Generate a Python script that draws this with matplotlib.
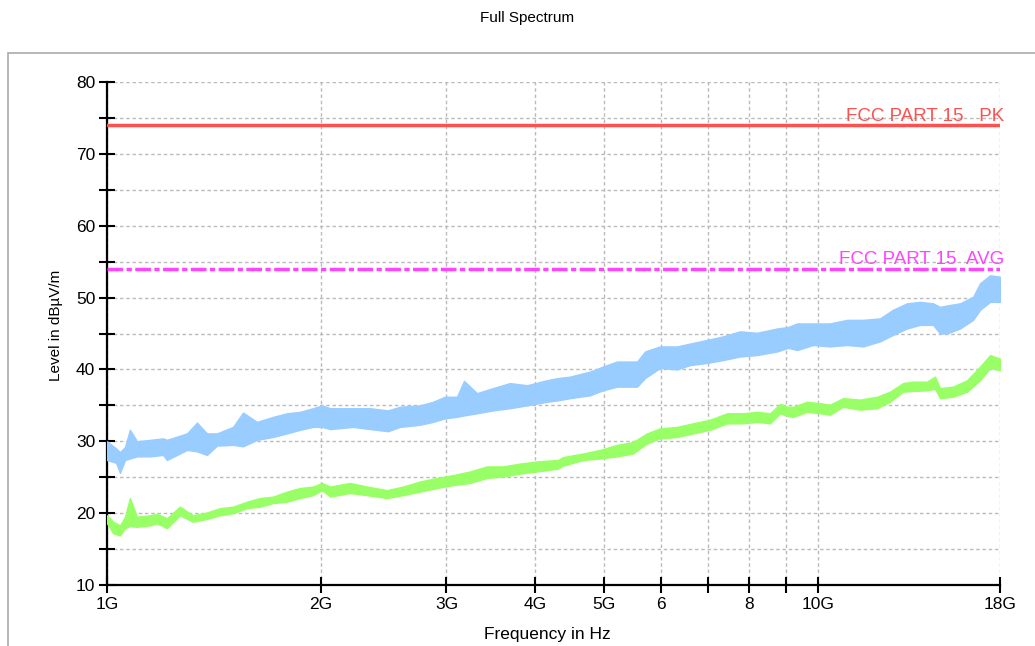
import numpy as np
import matplotlib.pyplot as plt
from matplotlib.patches import Rectangle
from matplotlib.ticker import FixedLocator, NullFormatter

plt.rcParams['font.family'] = ['Liberation Sans', 'DejaVu Sans']

# --- readings from the reference (frequency in GHz, level in dBuV/m) ---
pk_freq = [1.000, 1.030, 1.043, 1.060, 1.077, 1.102, 1.149, 1.199, 1.214, 1.296,
           1.338, 1.382, 1.428, 1.504, 1.553, 1.625, 1.712, 1.791, 1.868, 1.948,
           2.006, 2.059, 2.218, 2.343, 2.483, 2.581, 2.754, 2.873, 2.986, 3.104,
           3.176, 3.312, 3.488, 3.685, 3.894, 4.154, 4.305, 4.476, 4.775, 4.980,
           5.211, 5.560, 5.706, 5.990, 6.327, 6.600, 6.973, 7.344, 7.760, 8.200,
           8.749, 9.066, 9.335, 9.827, 10.382, 10.970, 11.555, 12.205, 12.729, 13.321,
           13.895, 14.492, 14.824, 15.164, 15.817, 16.498, 16.877, 17.431, 18.000]
pk_lo = [27.4, 27.0, 25.6, 27.4, 27.6, 27.9, 27.9, 28.1, 27.4, 28.8,
         28.6, 28.1, 29.4, 29.5, 29.3, 30.2, 30.6, 31.1, 31.6, 32.0,
         32.0, 31.7, 32.0, 31.7, 31.4, 32.0, 32.3, 32.7, 33.2, 33.4,
         33.6, 33.9, 34.3, 34.6, 35.0, 35.5, 35.7, 36.0, 36.4, 37.1,
         37.6, 37.6, 38.8, 40.2, 40.0, 40.6, 40.9, 41.3, 41.8, 42.0,
         42.5, 43.0, 42.7, 43.4, 43.2, 43.4, 43.2, 43.9, 44.8, 45.7,
         46.2, 46.2, 45.0, 45.0, 45.7, 46.9, 48.3, 49.4, 49.4]
pk_hi = [30.0, 29.0, 28.5, 29.2, 31.6, 30.0, 30.2, 30.4, 30.2, 31.1,
         32.6, 31.1, 31.1, 32.0, 34.0, 32.7, 33.4, 33.9, 34.1, 34.6,
         35.0, 34.6, 34.6, 34.6, 34.3, 34.8, 35.0, 35.5, 36.2, 36.2,
         38.4, 36.7, 37.4, 38.1, 37.8, 38.5, 38.8, 39.0, 39.7, 40.4,
         41.1, 41.1, 42.5, 43.2, 43.2, 43.6, 44.1, 44.6, 45.3, 45.1,
         45.7, 45.9, 46.4, 46.4, 46.4, 46.9, 46.9, 47.1, 48.3, 49.2,
         49.4, 49.2, 48.7, 48.9, 49.2, 50.1, 52.0, 53.1, 52.9]

av_freq = [1.000, 1.020, 1.043, 1.060, 1.077, 1.102, 1.149, 1.176, 1.214, 1.266,
           1.321, 1.382, 1.442, 1.504, 1.573, 1.641, 1.712, 1.791, 1.868, 1.948,
           2.006, 2.059, 2.196, 2.320, 2.475, 2.606, 2.754, 2.910, 3.065, 3.238,
           3.421, 3.603, 3.807, 4.022, 4.305, 4.375, 4.668, 4.932, 5.211, 5.488,
           5.743, 5.990, 6.327, 6.664, 7.041, 7.440, 7.836, 8.200, 8.553, 8.834,
           9.066, 9.214, 9.638, 10.052, 10.382, 10.829, 11.443, 12.087, 12.606, 13.150,
           13.584, 14.213, 14.586, 14.824, 15.462, 16.180, 16.877, 17.431, 18.000]
av_lo = [18.6, 17.2, 16.9, 17.9, 18.2, 18.1, 18.3, 18.6, 17.9, 19.7,
         18.8, 19.2, 19.7, 20.0, 20.7, 20.9, 21.4, 21.6, 22.1, 22.5,
         23.2, 22.3, 22.8, 22.5, 22.1, 22.5, 23.0, 23.5, 23.9, 24.2,
         24.9, 25.1, 25.5, 25.8, 26.2, 26.6, 27.4, 27.6, 27.9, 28.3,
         29.7, 30.4, 30.6, 31.1, 31.6, 32.5, 32.5, 32.7, 32.5, 33.9,
         33.5, 33.4, 34.1, 33.9, 33.7, 34.8, 34.4, 34.6, 35.5, 36.9,
         37.0, 37.1, 37.3, 36.0, 36.2, 36.9, 38.5, 40.2, 39.9]
av_hi = [19.7, 18.8, 18.3, 19.5, 22.1, 19.5, 19.7, 19.9, 19.3, 20.9,
         19.7, 20.1, 20.7, 20.9, 21.6, 22.1, 22.3, 23.0, 23.5, 23.7,
         24.2, 23.7, 24.2, 23.7, 23.2, 23.7, 24.4, 24.9, 25.3, 25.8,
         26.5, 26.5, 26.9, 27.2, 27.4, 27.8, 28.3, 28.8, 29.5, 29.9,
         31.1, 31.8, 32.0, 32.5, 33.0, 33.9, 33.9, 34.1, 33.9, 35.2,
         34.8, 34.8, 35.5, 35.3, 35.1, 36.0, 35.8, 36.2, 36.9, 38.1,
         38.3, 38.3, 39.0, 37.4, 37.6, 38.5, 40.4, 42.0, 41.5]

limit_pk = 74
limit_av = 54
xtick_pos = [1, 2, 3, 4, 5, 6, 7, 8, 9, 10, 18]
xtick_lbl = ['1G', '2G', '3G', '4G', '5G', '6', '', '8', '', '10G', '18G']

W, H = 1035, 646
fig = plt.figure(figsize=(W / 100, H / 100), dpi=100)
ax = fig.add_axes([107 / W, (H - 585) / H, 893 / W, 503 / H])

# outer gray frame (left and top visible)
fig.patches.append(Rectangle((8 / W, -0.2), 1.2, (H - 53) / H + 0.2, transform=fig.transFigure,
                             fill=False, edgecolor='#aaaaaa', lw=1.2, zorder=0))

f_pk = np.array(pk_freq) * 1e9
f_av = np.array(av_freq) * 1e9
ax.fill_between(f_pk, pk_lo, pk_hi, color='#99ccff', lw=1.0, edgecolor='#99ccff', zorder=3)
ax.fill_between(f_av, av_lo, av_hi, color='#99ff66', lw=1.0, edgecolor='#99ff66', zorder=3)

ax.axhline(limit_pk, color='#ff5050', lw=2.5, zorder=4)
ax.axhline(limit_av, color='#ff44ff', lw=2.5, ls=(0, (4.5, 1, 1.5, 1)), zorder=4)
ax.text(18.25e9, limit_pk + 0.05, 'FCC PART 15   PK', color='#ff5050', fontsize=13.5,
        ha='right', va='bottom', zorder=5)
ax.text(18.25e9, limit_av + 0.05, 'FCC PART 15  AVG', color='#ff44ff', fontsize=13.5,
        ha='right', va='bottom', zorder=5)

ax.set_xscale('log')
ax.set_xlim(1e9, 18e9)
ax.set_ylim(10, 80)
ax.xaxis.set_major_locator(FixedLocator([v * 1e9 for v in xtick_pos]))
ax.xaxis.set_minor_locator(FixedLocator([]))
ax.xaxis.set_minor_formatter(NullFormatter())
ax.set_xticklabels(xtick_lbl)
ax.set_yticks(np.arange(10, 81, 10))
ax.set_yticks(np.arange(15, 80, 10), minor=True)

ax.grid(True, which='both', color='#bbbbbb', ls=(0, (2.5, 2)), lw=1.0)
ax.tick_params(which='both', direction='inout', length=11, width=1.5, labelsize=12.5, pad=3)
for s in ['top', 'right']:
    ax.spines[s].set_visible(False)
for s in ['left', 'bottom']:
    ax.spines[s].set_linewidth(1.6)
ax.set_axisbelow(True)

fig.text(527 / W, 1 - 18 / H, 'Full Spectrum', ha='center', va='center', fontsize=11)
fig.text(547 / W, 1 - 635 / H, 'Frequency in Hz', ha='center', va='center', fontsize=12.5)
fig.text(56 / W, 1 - 325 / H, 'Level in dBµV/m', ha='center', va='center', rotation=90, fontsize=11)

fig.savefig('out.png', dpi=100)
